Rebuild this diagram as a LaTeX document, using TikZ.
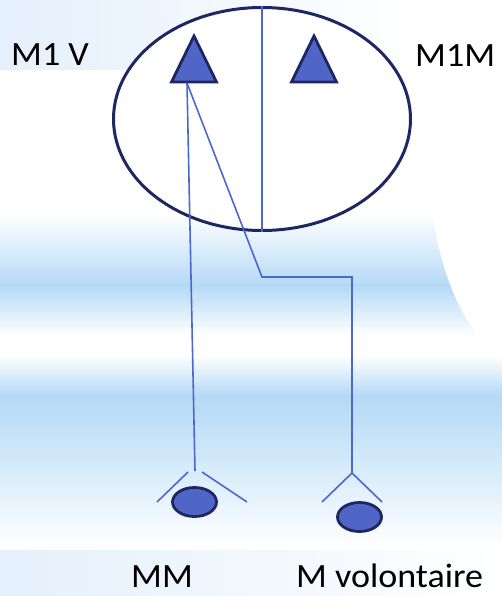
\documentclass[tikz,border=0pt]{standalone}
\usepackage{fontspec}
\setmainfont{Carlito}
\newfontfamily\lab[FakeStretch=1.06]{Carlito}
\usetikzlibrary{shapes.geometric}
\definecolor{navy}{RGB}{31,39,98}
\definecolor{lineblue}{RGB}{76,104,206}
\definecolor{fillblue}{RGB}{79,102,198}
\definecolor{band}{RGB}{180,217,246}
\definecolor{bandlight}{RGB}{200,228,249}
\definecolor{pale}{RGB}{228,240,252}
\tikzset{
  axon/.style={draw=lineblue, line width=1.6pt},
  soma/.style={ellipse, draw=navy, fill=fillblue, line width=2.8pt, minimum width=44pt, minimum height=29pt, inner sep=0pt},
  tri/.style={draw=navy, fill=fillblue, line width=2.8pt, line join=miter},
  lbl/.style={font=\lab\fontsize{34}{40}\selectfont, inner sep=0pt, text depth=0pt, text=black}
}
\begin{document}
\begin{tikzpicture}[x=1pt,y=-1pt]
\useasboundingbox (0,0) rectangle (502,596);
% background
\fill[white] (0,0) rectangle (502,596);
\shade[left color=pale, right color=white] (0,0) rectangle (420,70);
\shade[top color=white, bottom color=band] (0,214) rectangle (502,286);
\shade[top color=band, bottom color=white] (0,285) rectangle (502,336);
\shade[top color=white, bottom color=band] (0,355) rectangle (502,396);
\shade[top color=band, bottom color=bandlight] (0,395) rectangle (502,440);
\shade[top color=bandlight, bottom color=white] (0,439) rectangle (502,548);
\shade[left color=pale, right color=white] (0,550) rectangle (502,596);
\fill[white] (421,70) .. controls (424,240) and (450,320) .. (502,358) -- (502,70) -- cycle;
% cortex
\node[ellipse, draw=navy, fill=white, line width=3pt, minimum width=297pt, minimum height=223pt, inner sep=0pt] (cortex) at (262,119) {};
\draw[axon] (cortex.north) -- (cortex.south);
% pyramidal cells
\coordinate (p1) at (194,82);
\coordinate (p2) at (314,82);
\draw[tri] (p1) ++(-22.5,0) -- ++(22.5,-46) -- ++(22.5,46) -- cycle;
\draw[tri] (p2) ++(-22.5,0) -- ++(22.5,-46) -- ++(22.5,46) -- cycle;
% axons
\coordinate (ax) at (187,83);
\coordinate (mmtop) at (195,471);
\coordinate (b1) at (262,277);
\coordinate (b2) at (352,277);
\coordinate (voltop) at (352,473);
\draw[axon] (ax) -- (mmtop);
\draw[axon, line join=miter] (ax) -- (b1) -- (b2) -- (voltop);
% motor neurons
\node[soma] (mm) at (194.5,502) {};
\node[soma] (vol) at (359.5,517) {};
\coordinate (mml1) at (188,472);
\coordinate (mml2) at (157,502);
\coordinate (mmr1) at (202,472);
\coordinate (mmr2) at (247,502);
\draw[axon] (mml1) -- (mml2);
\draw[axon] (mmr1) -- (mmr2);
\coordinate (voll) at (322,502);
\coordinate (volr) at (382,502);
\draw[axon] (voll) -- (voltop) -- (volr);
% labels
\node[lbl, anchor=base west] (lm1v) at (11,66) {M1 V};
\node[lbl, anchor=base west] (lm1m) at (415,67) {M1M};
\node[lbl, anchor=base west] (lmm) at (131,587) {MM};
\node[lbl, anchor=base west] (lvol) at (296,587) {M volontaire};
\end{tikzpicture}
\end{document}
